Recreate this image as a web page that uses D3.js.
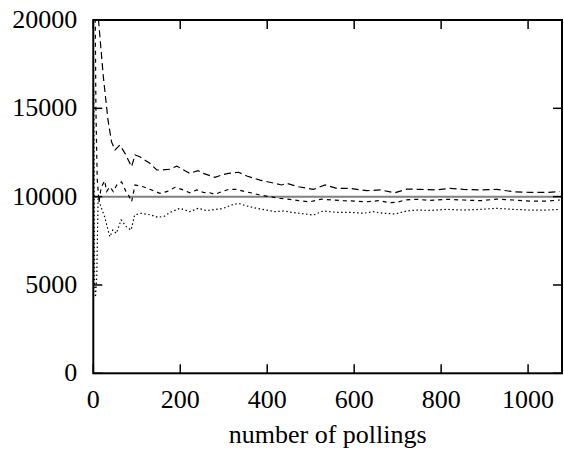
<!DOCTYPE html>
<html>
<head>
<meta charset="utf-8">
<script src="https://cdn.jsdelivr.net/npm/d3@7"></script>
<style>
body{margin:0;background:#fff;}
</style>
</head>
<body>
<div id="chart"></div>
<script>
var w = 564;
var h = 459;
var margin = {left:93.3, right:2, top:20, bottom:85.7};
var fontSize = 26;
var fontFamily = "'Liberation Serif', 'DejaVu Serif', serif";

var xMax = 1078;
var yMax = 20000;
var reference = 10000;
var xTicks = [0,200,400,600,800,1000];
var yTicks = [0,5000,10000,15000,20000];
var xTitle = "number of pollings";

// number of pollings for each series
var upperN = [2,6,11,23,34,42,50,61,73,88,96,107,130,146,157,176,192,215,222,241,253,280,295,311,334,353,383,418,433,445,472,506,533,560,590,629,660,694,721,752,790,821,851,890,928,966,1005,1043,1073];
var upperV = [30000,24000,20300,16800,14300,13100,12640,12920,12450,11690,12360,12260,11890,11510,11510,11550,11730,11410,11320,11470,11320,11090,11220,11320,11380,11170,10940,10750,10660,10750,10560,10410,10660,10470,10470,10340,10380,10220,10430,10410,10380,10470,10410,10380,10410,10280,10240,10240,10280];

var middleN = [1,3,6,9,13,18,26,31,38,46,55,65,75,81,88,96,115,134,153,169,188,207,222,238,253,268,280,295,311,330,349,368,383,406,430,452,472,498,525,548,575,602,629,656,683,698,717,744,775,813,851,890,928,966,1005,1043,1073];
var middleV = [40000,25000,15000,11000,9700,10500,10900,10300,10560,10280,10700,10840,10300,10090,9710,10660,10560,10380,10190,10280,10530,10380,10220,10380,10240,10220,10130,10280,10410,10410,10280,10190,10090,10000,9900,9850,9770,9710,9860,9810,9770,9750,9710,9770,9660,9680,9810,9850,9790,9850,9810,9770,9860,9810,9750,9750,9810];

var lowerN = [1,3,5,8,11,15,26,38,45,53,64,76,87,95,110,133,149,164,176,199,222,241,261,280,299,318,334,353,376,399,418,437,460,475,506,529,560,590,621,644,667,694,721,744,775,813,851,890,928,966,1005,1043,1073];
var lowerV = [16000,5000,4300,5500,9900,9600,8860,7730,8110,7920,8680,8300,8110,8960,9060,8960,8830,8900,9100,9340,9150,9340,9210,9270,9340,9530,9620,9470,9340,9240,9150,9190,9100,9060,8960,9190,9110,9110,9060,9150,9060,9020,9190,9240,9220,9280,9240,9280,9340,9280,9240,9240,9280];

var xScale, yScale, svgChart;

function setScales(){
  xScale = d3.scaleLinear()
    .domain([0, xMax])
    .range([margin.left, w - margin.right]);
  yScale = d3.scaleLinear()
    .domain([0, yMax])
    .range([h - margin.bottom, margin.top]);
}

function makeSeries(ns, vs){
  var out = [];
  for(var i=0;i<ns.length;i++){
    out.push({n:ns[i], v:vs[i]});
  }
  return out;
}

function drawAxes(){
  var x0 = xScale.range()[0], x1 = xScale.range()[1];
  var y0 = yScale.range()[0], y1 = yScale.range()[1];
  var tick = 9;

  // reference line at 10000
  svgChart.append("line")
    .attr("x1", x0).attr("x2", x1)
    .attr("y1", yScale(reference)).attr("y2", yScale(reference))
    .attr("stroke", "#808080")
    .attr("stroke-width", 2);

  var g = svgChart.append("g").attr("class","ticks")
    .attr("stroke","#000").attr("stroke-width",1.5);
  xTicks.forEach(function(t){
    g.append("line").attr("x1",xScale(t)).attr("x2",xScale(t)).attr("y1",y0).attr("y2",y0-tick);
    g.append("line").attr("x1",xScale(t)).attr("x2",xScale(t)).attr("y1",y1).attr("y2",y1+tick);
  });
  yTicks.forEach(function(t){
    g.append("line").attr("x1",x0).attr("x2",x0+tick).attr("y1",yScale(t)).attr("y2",yScale(t));
    g.append("line").attr("x1",x1).attr("x2",x1-tick).attr("y1",yScale(t)).attr("y2",yScale(t));
  });

  svgChart.selectAll(".xlab").data(xTicks).enter().append("text")
    .attr("class","xlab")
    .attr("x", function(d){return xScale(d);})
    .attr("y", y0 + 35)
    .attr("font-family", fontFamily)
    .attr("font-size", fontSize)
    .style("text-anchor","middle")
    .text(function(d){return d;});

  svgChart.selectAll(".ylab").data(yTicks).enter().append("text")
    .attr("class","ylab")
    .attr("x", x0 - 16)
    .attr("y", function(d){return yScale(d) + 8;})
    .attr("font-family", fontFamily)
    .attr("font-size", fontSize)
    .style("text-anchor","end")
    .text(function(d){return d;});

  svgChart.append("text")
    .attr("x", (x0 + x1)/2)
    .attr("y", y0 + 70)
    .attr("font-family", fontFamily)
    .attr("font-size", fontSize)
    .style("text-anchor","middle")
    .text(xTitle);
}

function drawSeries(){
  var line = d3.line()
    .x(function(d){return xScale(d.n);})
    .y(function(d){return yScale(d.v);});

  var plot = svgChart.append("g").attr("clip-path","url(#plotclip)");
  var series = [
    {data: makeSeries(upperN, upperV), dash: "7,4"},
    {data: makeSeries(middleN, middleV), dash: "4,4"},
    {data: makeSeries(lowerN, lowerV), dash: "1.5,2.5"}
  ];
  series.forEach(function(s){
    plot.append("path")
      .datum(s.data)
      .attr("d", line)
      .attr("fill","none")
      .attr("stroke","#000")
      .attr("stroke-width",1.2)
      .attr("stroke-dasharray", s.dash);
  });
}

function drawFrame(){
  svgChart.append("rect")
    .attr("x", xScale.range()[0]).attr("y", yScale.range()[1])
    .attr("width", xScale.range()[1]-xScale.range()[0])
    .attr("height", yScale.range()[0]-yScale.range()[1])
    .attr("fill","none").attr("stroke","#000").attr("stroke-width",2);
}

function runChart(){
  setScales();
  svgChart = d3.select("#chart").append("svg")
    .attr("width", w).attr("height", h);
  svgChart.append("clipPath").attr("id","plotclip")
    .append("rect")
    .attr("x", xScale.range()[0]).attr("y", yScale.range()[1])
    .attr("width", xScale.range()[1]-xScale.range()[0])
    .attr("height", yScale.range()[0]-yScale.range()[1]);
  drawAxes();
  drawSeries();
  drawFrame();
}
runChart();
</script>
</body>
</html>
